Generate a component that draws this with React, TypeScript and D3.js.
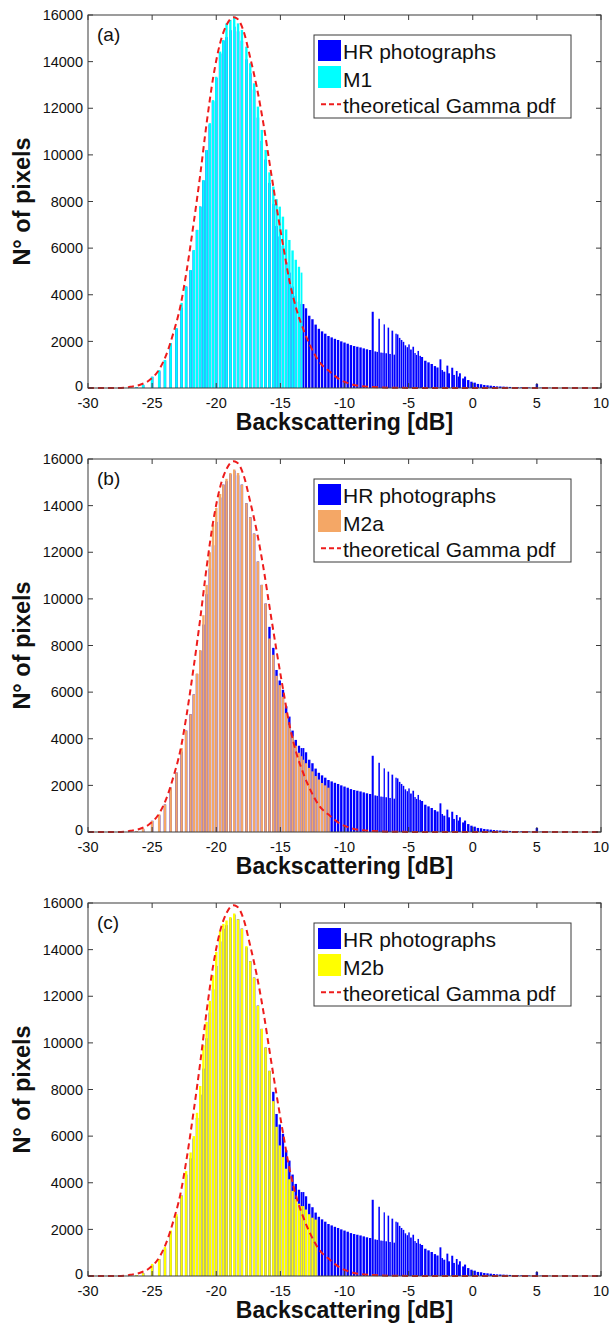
import React from 'react';
import * as d3 from 'd3';

// bin centres of the histogram (dB): dense core first, then the HR tail
const coreDb = [-26.2, -25.7, -25.0, -24.45, -24.0, -23.55, -23.1, -22.7, -22.35, -22.0,
  -21.75, -21.5, -21.25, -21.0, -20.75, -20.5, -20.25, -20.0, -19.7, -19.45,
  -19.2, -18.9, -18.6, -18.3, -18.0, -17.65, -17.35, -17.05, -16.75, -16.45,
  -16.15, -15.85, -15.55, -15.3, -15.05, -14.8, -14.55, -14.3, -14.05, -13.8,
  -13.55, -13.35];
const tailDb = [-13.2, -13.0, -12.75, -12.5, -12.25, -12.0, -11.75, -11.5, -11.25, -11.0,
  -10.75, -10.5, -10.25, -10.0, -9.75, -9.5, -9.25, -9.0, -8.75, -8.5,
  -8.25, -8.0, -7.8, -7.6, -7.45, -7.3, -7.15, -7.0, -6.9, -6.75,
  -6.58, -6.45, -6.27, -6.12, -5.98, -5.85, -5.7, -5.55, -5.4, -5.25,
  -5.1, -4.97, -4.82, -4.64, -4.5, -4.38, -4.25, -4.1, -3.95, -3.7,
  -3.45, -3.2, -2.95, -2.75, -2.52, -2.38, -2.22, -1.98, -1.85, -1.6,
  -1.46, -1.25, -1.12, -1.0, -0.75, -0.6, -0.35, -0.1, 0.15, 0.4,
  0.65, 0.9, 1.15, 1.4, 1.65, 1.9, 2.15, 2.4, 2.65, 2.9,
  3.2, 3.5, 3.8, 4.1, 4.4, 4.7, 5.0, 5.3, 5.6, 6.0,
  6.5, 7.0, 7.5, 8.0, 8.5, 9.0, 9.5];

// HR photographs (blue)
const hrCore = [40, 120, 480, 720, 1180, 1900, 2550, 3450, 4350, 5050,
  5900, 6780, 7780, 8900, 10200, 11300, 12300, 13300, 14350, 14900,
  15050, 15350, 15500, 15300, 14900, 14100, 13500, 12800, 11600, 10600,
  9800, 8800, 7900, 6950, 6500, 6100, 5400, 4950, 4350, 3950,
  3700, 3600];
const hrTail = [3600, 3420, 3100, 2950, 2720, 2540, 2430, 2330, 2230, 2170,
  2110, 2060, 2000, 1950, 1900, 1840, 1800, 1770, 1740, 1700,
  1660, 1630, 3270, 1570, 1550, 2970, 1520, 1510, 2730, 1490,
  2590, 1460, 2460, 1430, 2330, 2300, 2150, 2060, 1980, 1830,
  1750, 1870, 1650, 1770, 1500, 1420, 1590, 1380, 1330, 1170,
  1100, 1030, 940, 880, 1230, 770, 700, 960, 630, 870,
  560, 730, 490, 630, 410, 490, 340, 270, 230, 175,
  160, 130, 115, 100, 85, 70, 65, 60, 52, 45,
  38, 32, 28, 24, 20, 18, 170, 14, 12, 10,
  8, 6, 5, 4, 3, 2, 2];

// classified subsets, aligned with the first bins
const m1Counts = [40, 150, 480, 770, 1200, 1930, 2570, 3650, 4350, 5060,
  5920, 6780, 7780, 8920, 10210, 11360, 12350, 13350, 14430, 14930,
  15640, 15790, 15930, 15640, 15360, 14640, 13930, 13070, 12070, 11070,
  10210, 9250, 8640, 8100, 7780, 7350, 6800, 6350, 5900, 5500,
  5200, 4950];
const m2aCounts = [40, 150, 480, 760, 1180, 1900, 2550, 3600, 4350, 5050,
  5900, 6800, 7800, 9300, 10600, 12000, 13200, 13900, 14500, 14900,
  15150, 15400, 15550, 15400, 14900, 14100, 13500, 12800, 11600, 10600,
  9800, 8300, 7600, 6700, 6300, 5800, 5100, 4600, 4100, 3700,
  3400, 3250,
  3100, 2950, 2750, 2600, 2400, 2250, 2100, 2000, 1900];
const m2bCounts = [40, 120, 520, 720, 1250, 1950, 2650, 3450, 4500, 5300,
  6000, 7000, 8150, 9900, 10900, 11800, 12900, 13900, 14800, 15100,
  15250, 15400, 15550, 15300, 14900, 14150, 13500, 12800, 11600, 10600,
  9800, 8800, 7500, 6400, 5600, 5100, 4600, 4150, 3650, 3300,
  3100, 3000,
  3000, 2850, 2650, 2500, 2420];

// theoretical Gamma pdf
const gammaDb = [-30, -28, -27, -26.7, -26, -25.2, -24.4, -23.9, -23.35, -22.8,
  -22.3, -21.8, -21.27, -20.75, -20.23, -19.7, -19.2, -18.67, -18.4, -17.9,
  -17.37, -16.85, -16.33, -15.8, -15.3, -14.77, -14.25, -13.73, -13.2, -12.7,
  -12.0, -11.1, -10.3, -9.5, -8.8, -7.8, -6.5, -5, -2, 2, 10];
const gammaPdf = [0, 2, 20, 50, 130, 340, 840, 1420, 2350, 3500,
  5060, 6920, 9060, 11360, 13350, 14790, 15570, 15900, 15860, 15360,
  14210, 12930, 11360, 9500, 7780, 6060, 4490, 3350, 2500, 1850,
  1150, 680, 340, 170, 85, 40, 12, 4, 1, 0, 0];

const xTicks = [-30, -25, -20, -15, -10, -5, 0, 5, 10];
const yTicks = [0, 2000, 4000, 6000, 8000, 10000, 12000, 14000, 16000];

const panelTags = ['(a)', '(b)', '(c)'];
const classNames = ['M1', 'M2a', 'M2b'];
const classColors = ['#00ffff', '#f4a766', '#ffff00'];
const classCounts = [m1Counts, m2aCounts, m2bCounts];

const binDb = coreDb.concat(tailDb);
const hrCounts = hrCore.concat(hrTail);

const W = 612, H = 1327;
const panelTops = [15, 459, 903];
const plotLeft = 88, plotRight = 601, plotH = 373;
const font = '"Liberation Sans", Arial, sans-serif';
const hrColor = '#0000ff';
const axisColor = '#3a3a3a';

const x = d3.scaleLinear().domain([-30, 10]).range([plotLeft, plotRight]);
const y = d3.scaleLinear().domain([0, 16000]).range([plotH, 0]);

function barWidth(i: number) {
  const prev = i > 0 ? binDb[i - 1] : 2 * binDb[i] - binDb[i + 1];
  const next = i < binDb.length - 1 ? binDb[i + 1] : 2 * binDb[i] - binDb[i - 1];
  const step = (x(next) - x(prev)) / 2;
  return Math.min(2.4, step * 0.8);
}

const gammaLine = d3.line<number>()
  .x((d, i) => x(gammaDb[i]))
  .y(d => y(d))
  .curve(d3.curveMonotoneX);

function Bars({counts, color}: {counts: number[], color: string}) {
  return (
    <g fill={color}>
      {counts.map((c, i) => {
        const w = barWidth(i);
        return <rect key={i} x={x(binDb[i]) - w / 2} y={y(c)} width={w} height={y(0) - y(c)} />;
      })}
    </g>
  );
}

function Panel({k}: {k: number}) {
  const top = panelTops[k];
  return (
    <g transform={`translate(0,${top})`} fontFamily={font}>
      <Bars counts={hrCounts} color={hrColor} />
      <Bars counts={classCounts[k]} color={classColors[k]} />
      <path d={gammaLine(gammaPdf) || ''} fill="none" stroke="#ee1c1c" strokeWidth={2}
        strokeDasharray="6,4" />

      <rect x={plotLeft} y={0} width={plotRight - plotLeft} height={plotH}
        fill="none" stroke={axisColor} strokeWidth={1} />
      {xTicks.map(t => (
        <g key={'x' + t}>
          <line x1={x(t)} x2={x(t)} y1={plotH} y2={plotH - 5} stroke={axisColor} />
          <line x1={x(t)} x2={x(t)} y1={0} y2={5} stroke={axisColor} />
          <text x={x(t)} y={plotH + 20} textAnchor="middle" fontSize={14.5} fill="#111">{t}</text>
        </g>
      ))}
      {yTicks.map(t => (
        <g key={'y' + t}>
          <line x1={plotLeft} x2={plotLeft + 5} y1={y(t)} y2={y(t)} stroke={axisColor} />
          <line x1={plotRight} x2={plotRight - 5} y1={y(t)} y2={y(t)} stroke={axisColor} />
          <text x={plotLeft - 5} y={y(t)} dy={t === 0 ? '0.2em' : '0.36em'} textAnchor="end"
            fontSize={14.5} fill="#111">{t}</text>
        </g>
      ))}

      <text x={97} y={26} fontSize={19} fill="#111">{panelTags[k]}</text>

      <text x={(plotLeft + plotRight) / 2} y={plotH + 42} textAnchor="middle"
        fontSize={23} fontWeight="bold" fill="#111">Backscattering [dB]</text>
      <text transform={`translate(30,${plotH / 2}) rotate(-90)`} textAnchor="middle"
        fontSize={23.5} fontWeight="bold" fill="#111">N° of pixels</text>

      <g transform="translate(314,20)">
        <rect x={0} y={0} width={257} height={83} fill="#fff" stroke={axisColor} strokeWidth={1} />
        <rect x={4} y={5} width={23} height={21} fill={hrColor} />
        <text x={29} y={24.3} fontSize={21} fill="#111">HR photographs</text>
        <rect x={4} y={31} width={23} height={22} fill={classColors[k]} />
        <text x={29} y={51.7} fontSize={21} fill="#111">{classNames[k]}</text>
        <line x1={7} x2={27} y1={69.3} y2={69.3} stroke="#ee1c1c" strokeWidth={2} strokeDasharray="5,3" />
        <text x={29} y={78.3} fontSize={21} fill="#111">theoretical Gamma pdf</text>
      </g>
    </g>
  );
}

export default function App() {
  return (
    <svg width={W} height={H} style={{position: 'absolute', left: 0, top: 0, background: '#fff'}}>
      {panelTags.map((t, k) => <Panel key={t} k={k} />)}
    </svg>
  );
}
